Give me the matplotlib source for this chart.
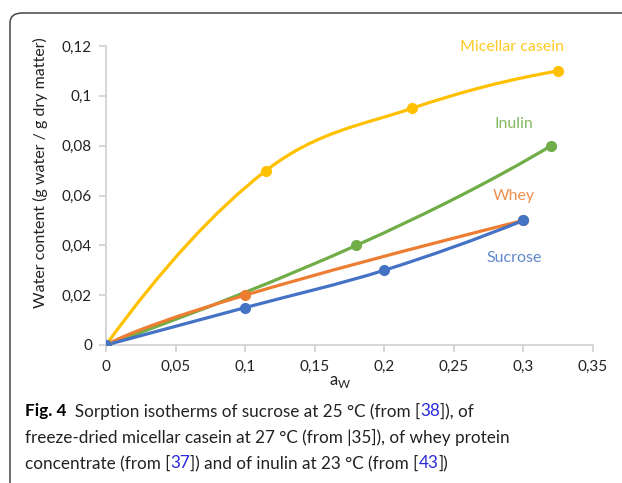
import matplotlib
matplotlib.use("Agg")
import matplotlib.pyplot as plt
from matplotlib.path import Path
from matplotlib.patches import PathPatch, FancyBboxPatch

# data
casein_x = [0, 0.115, 0.22, 0.325]
casein_y = [0, 0.07, 0.095, 0.11]
inulin_x = [0, 0.18, 0.32]
inulin_y = [0, 0.04, 0.08]
whey_x = [0, 0.1, 0.3]
whey_y = [0, 0.02, 0.05]
sucrose_x = [0, 0.1, 0.2, 0.3]
sucrose_y = [0, 0.015, 0.03, 0.05]

series = [
    ("Micellar casein", casein_x, casein_y, "#FFC000", (0.292, 0.1195)),
    ("Inulin", inulin_x, inulin_y, "#70AD47", (0.293, 0.0885)),
    ("Whey", whey_x, whey_y, "#ED7D31", (0.293, 0.0598)),
    ("Sucrose", sucrose_x, sucrose_y, "#4472C4", (0.293, 0.035)),
]

xticks = [0, 0.05, 0.1, 0.15, 0.2, 0.25, 0.3, 0.35]
yticks = [0, 0.02, 0.04, 0.06, 0.08, 0.1, 0.12]


def fmt(v):
    return ("%g" % v).replace(".", ",")


def smooth_path(xs, ys):
    # Excel-like smoothed line: cubic bezier through the points,
    # inner tangents catmull-rom, end tangents parabolic
    pts = list(zip(xs, ys))
    n = len(pts)
    tang = []
    for i in range(n):
        if 0 < i < n - 1:
            tang.append(((pts[i + 1][0] - pts[i - 1][0]) / 2,
                         (pts[i + 1][1] - pts[i - 1][1]) / 2))
        else:
            tang.append(None)
    if n > 2:
        tang[0] = (2 * (pts[1][0] - pts[0][0]) - tang[1][0],
                   2 * (pts[1][1] - pts[0][1]) - tang[1][1])
        tang[-1] = (2 * (pts[-1][0] - pts[-2][0]) - tang[-2][0],
                    2 * (pts[-1][1] - pts[-2][1]) - tang[-2][1])
    else:
        d = (pts[1][0] - pts[0][0], pts[1][1] - pts[0][1])
        tang = [d, d]
    verts = [pts[0]]
    codes = [Path.MOVETO]
    for i in range(n - 1):
        p1, p2 = pts[i], pts[i + 1]
        c1 = (p1[0] + tang[i][0] / 3, p1[1] + tang[i][1] / 3)
        c2 = (p2[0] - tang[i + 1][0] / 3, p2[1] - tang[i + 1][1] / 3)
        verts += [c1, c2, p2]
        codes += [Path.CURVE4] * 3
    return Path(verts, codes)


fig = plt.figure(figsize=(6.22, 4.83), dpi=100)
ax = fig.add_axes([106 / 622, 1 - 345 / 483, 487 / 622, 299 / 483])

for name, xs, ys, col, pos in series:
    ax.add_patch(PathPatch(smooth_path(xs, ys), facecolor="none",
                           edgecolor=col, lw=2.3, zorder=3))
    ax.plot(xs, ys, "o", color=col, ms=7, zorder=4)
    ax.text(pos[0], pos[1], name, color=col, fontsize=11.5, family="Lato",
            ha="center", va="center", alpha=0.85)

ax.set_xlim(0, 0.35)
ax.set_ylim(0, 0.12)
ax.set_xticks(xticks)
ax.set_xticklabels([fmt(v) for v in xticks])
ax.set_yticks(yticks)
ax.set_yticklabels([fmt(v) for v in yticks])
for s in ["top", "right"]:
    ax.spines[s].set_visible(False)
for s in ["left", "bottom"]:
    ax.spines[s].set_color("#D0D0D0")
    ax.spines[s].set_linewidth(1.2)
ax.tick_params(colors="#D0D0D0", length=5, width=1.2, labelcolor="#222222",
               labelsize=11)
for lab in ax.get_xticklabels() + ax.get_yticklabels():
    lab.set_family("Lato")
ax.tick_params(axis="x", pad=6)
ax.tick_params(axis="y", pad=5)

fig.text(40 / 622, 1 - 173 / 483, "Water content (g water / g dry matter)",
         rotation=90, ha="center", va="center", fontsize=11.5, family="Lato",
         color="#222222")
fig.text(340 / 622, 1 - 382 / 483, r"a$_\mathregular{W}$", ha="center",
         va="center", fontsize=12, family="Lato", color="#222222")

# frame around the figure, running off the right and bottom edges
frame = FancyBboxPatch((10 / 622, -0.2), 1.3, 1.2 - 13 / 483,
                       boxstyle="round,pad=0,rounding_size=0.02",
                       transform=fig.transFigure, facecolor="none",
                       edgecolor="#444444", lw=1.1, clip_on=False)
fig.patches.append(frame)

# caption with coloured reference numbers
caption = [
    [("Fig. 4", "k", "bold"), ("  Sorption isotherms of sucrose at 25 °C (from [", "#222222", "normal"),
     ("38", "#2B2BD9", "normal"), ("]), of", "#222222", "normal")],
    [("freeze-dried micellar casein at 27 °C (from |35]), of whey protein", "#222222", "normal")],
    [("concentrate (from [", "#222222", "normal"), ("37", "#2B2BD9", "normal"),
     ("]) and of inulin at 23 °C (from [", "#222222", "normal"), ("43", "#2B2BD9", "normal"),
     ("])", "#222222", "normal")],
]
line_y = [411, 437, 463]
renderer = fig.canvas.get_renderer()
for parts, yl in zip(caption, line_y):
    x = 25
    for txt, col, wt in parts:
        t = fig.text(x / 622, 1 - yl / 483, txt, color=col, fontweight=wt,
                     fontsize=12.3, family="Lato", ha="left", va="center")
        bb = t.get_window_extent(renderer)
        x += bb.width

fig.savefig("out.png", dpi=100)
